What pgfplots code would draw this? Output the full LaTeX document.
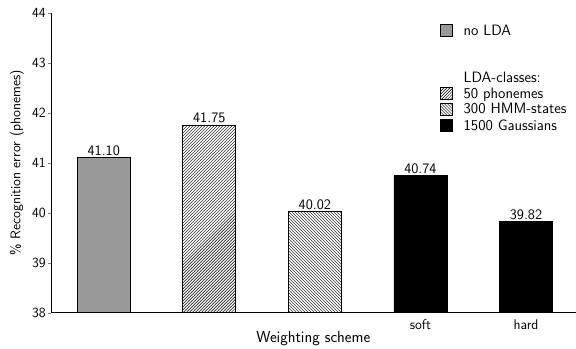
\documentclass[border=0pt]{standalone}
\usepackage{pgfplots}
\pgfplotsset{compat=1.18}
\usetikzlibrary{patterns}
\renewcommand{\familydefault}{\sfdefault}
\definecolor{bargray}{RGB}{153,153,153}
\begin{document}
\begin{tikzpicture}
\begin{axis}[
  scale only axis,
  width=525pt, height=300pt,
  xmin=-0.5, xmax=4.47,
  ymin=38, ymax=44,
  ytick={38,39,40,41,42,43,44},
  xtick={3,4}, xticklabels={soft,hard},
  axis x line=bottom, axis y line=left,
  axis line style={-, line width=0.8pt},
  x axis line style={-},
  y axis line style={-},
  ybar, bar width=53pt, bar shift=0pt,
  tick align=outside,
  major tick length=3pt,
  xtick style={draw=none},
  /pgf/number format/assume math mode=true,
  ticklabel style={font=\fontsize{14}{16}\selectfont},
  yticklabel style={inner xsep=2pt},
  xlabel={Weighting scheme},
  ylabel={\% Recognition error (phonemes)},
  xlabel style={font=\fontsize{16}{18}\selectfont, yshift=5pt},
  ylabel style={font=\fontsize{14}{16}\selectfont, at={(axis description cs:0,0.5)}, anchor=center, rotate=0, yshift=34pt},
  nodes near coords,
  nodes near coords style={font=\fontsize{14.5}{17}\selectfont, inner sep=2pt, /pgf/number format/.cd, fixed, fixed zerofill, precision=2, assume math mode=true},
  legend style={draw=none, fill=none, at={(0.741,0.975)}, anchor=north west, font=\fontsize{15}{17}\selectfont, row sep=0pt, legend cell align=left, inner xsep=0pt},
  area legend,
  legend image code/.code={\draw[#1, line width=0.6pt] (0pt,-6pt) rectangle (12pt,6pt); \path (21pt,0pt);},
  after end axis/.code={\path (rel axis cs:0,0) ++(-51pt,0pt) (rel axis cs:0,1) ++(0pt,13pt);},
]
\addplot[draw=black, line width=0.8pt, fill=bargray] coordinates {(0,41.10)};
\addlegendentry{no LDA}
\addlegendimage{legend image code/.code={\path (0pt,0pt) (21pt,0pt);}}\addlegendentry{\rule[-3.5pt]{0pt}{13.6pt}}
\addlegendimage{legend image code/.code={\path (0pt,0pt) (21pt,0pt);}}\addlegendentry{\rule[-3.5pt]{0pt}{13.6pt}}
\addlegendimage{legend image code/.code={\path (0pt,0pt) (21pt,0pt);}}\addlegendentry{LDA-classes:}
\addplot[draw=black, line width=0.8pt, pattern=north east lines] coordinates {(1,41.75)};
\addlegendentry{50 phonemes}
\addplot[draw=black, line width=0.8pt, pattern=north west lines] coordinates {(2,40.02)};
\addlegendentry{300 HMM-states}
\addplot[draw=black, line width=0.8pt, fill=black] coordinates {(3,40.74) (4,39.82)};
\addlegendentry{1500 Gaussians}
\end{axis}
\end{tikzpicture}
\end{document}
